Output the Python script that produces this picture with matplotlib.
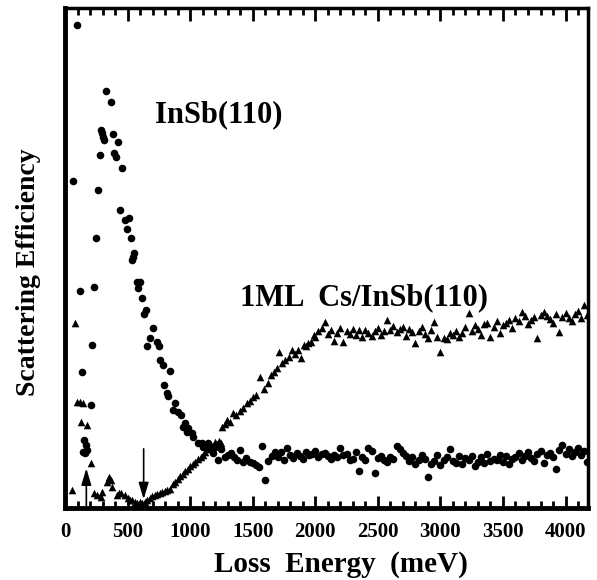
import numpy as np
import matplotlib.pyplot as plt
from matplotlib.ticker import MultipleLocator

# InSb(110) - filled circles, low energy part (meV, arb. units)
insb_x_low = [64, 97, 121, 137, 145, 153, 161, 169, 177, 209, 217, 233, 250, 266,
              282, 290, 298, 305, 313, 330, 370, 380, 394, 411, 427, 443, 459, 475,
              491, 507, 523, 531, 539, 547, 571, 580, 596, 612, 628, 644, 652, 676,
              700, 732, 749, 757, 781, 789, 813, 821, 837, 861, 877, 902, 926, 942,
              958, 974, 982, 1014, 1022, 1063, 1095, 1103, 1143, 1159, 1175, 1183]
insb_y_low = [65.4, 96.6, 43.4, 27.2, 11.2, 13.6, 11.0, 12.6, 11.6, 20.6, 32.6, 44.2, 54.0, 63.6,
              70.6, 75.6, 75.0, 74.2, 73.6, 83.4, 81.2, 74.8, 71.0, 70.2, 73.2, 59.6, 68.0, 57.6,
              55.8, 58.0, 54.0, 49.6, 50.2, 51.0, 45.2, 44.0, 45.2, 42.0, 38.8, 39.6, 32.4, 34.0,
              36.0, 33.2, 32.4, 29.6, 28.6, 24.6, 23.0, 22.4, 27.4, 19.6, 21.0, 19.2, 18.6, 16.2,
              17.0, 15.2, 16.0, 15.0, 14.2, 13.0, 13.0, 12.2, 13.0, 12.2, 11.6, 11.0]

# InSb(110) - flat part, 25 meV steps from 1200 meV
insb_x_flat = np.arange(1200, 4200, 25)
insb_y_flat = [12.2, 9.6, 11.8, 10.2, 10.6, 11.0, 10.2, 9.6, 11.6, 9.2,
               10.0, 9.2, 9.0, 8.6, 8.2, 12.4, 5.6, 9.4, 10.4, 11.2,
               10.2, 11.2, 9.6, 12.0, 10.6, 10.0, 11.0, 10.4, 9.8, 11.2,
               10.6, 10.8, 11.4, 10.2, 10.8, 11.0, 10.4, 9.8, 10.6, 10.2,
               12.0, 10.6, 10.8, 9.6, 9.8, 11.2, 7.4, 10.2, 9.6, 12.0,
               11.4, 7.0, 10.0, 10.4, 9.6, 9.2, 10.2, 9.8, 12.4, 11.8,
               11.0, 10.4, 9.4, 10.2, 8.8, 9.6, 10.6, 9.8, 6.2, 8.8,
               9.4, 10.6, 8.6, 9.6, 10.2, 11.8, 9.4, 9.0, 10.4, 8.8,
               10.0, 9.6, 10.4, 8.4, 9.2, 10.2, 9.0, 10.8, 9.4, 9.8,
               9.6, 10.6, 9.2, 10.4, 8.8, 9.8, 10.2, 11.0, 9.6, 10.4,
               11.2, 10.0, 9.4, 10.8, 11.4, 9.0, 10.6, 11.0, 10.2, 7.8,
               11.6, 12.6, 10.8, 11.8, 10.4, 11.2, 12.0, 10.6, 11.4, 9.2]

# 1ML Cs/InSb(110) - triangles, low energy part
cs_x_low = [56, 80, 97, 121, 145, 129, 177, 209, 233, 258, 290, 298, 338, 354, 370, 378,
            419, 435, 451, 475, 499, 515, 531, 555, 575, 596, 616, 636, 656, 676, 696,
            716, 737, 757, 777, 797, 817, 837, 861, 882, 902, 922, 942, 962, 982, 1002,
            1022, 1042, 1063, 1083, 1103, 1119, 1135, 1151, 1167, 1183, 1200, 1216, 1232,
            1248, 1256, 1280, 1296, 1320, 1344, 1369, 1401, 1425, 1457, 1481, 1505, 1530,
            1562, 1586, 1618, 1642, 1667, 1691, 1707, 1731, 1755, 1787, 1811, 1835, 1860,
            1884, 1908, 1924, 1940, 1964, 1988]
cs_y_low = [3.6, 37.0, 21.2, 21.2, 21.0, 17.2, 16.6, 9.0, 3.0, 2.6, 2.2, 3.2, 5.2, 6.2, 5.6, 4.2,
            2.6, 3.0, 3.0, 2.6, 2.0, 1.6, 1.6, 1.2, 1.0, 1.2, 1.0, 1.2, 1.6, 2.0, 2.4,
            2.6, 2.8, 3.0, 3.2, 3.4, 3.6, 3.8, 4.8, 5.2, 5.8, 6.4, 6.8, 7.4, 7.8, 8.4,
            8.8, 9.2, 9.8, 10.2, 10.6, 11.2, 11.8, 12.2, 12.6, 12.4, 13.2, 12.8, 13.4,
            13.0, 16.2, 16.8, 17.6, 17.2, 19.0, 18.6, 19.4, 20.0, 21.0, 21.4, 22.2, 22.6,
            26.2, 23.8, 25.0, 26.6, 27.2, 28.0, 31.2, 29.0, 29.6, 30.2, 31.6, 30.8, 31.6,
            30.0, 32.6, 32.4, 33.0, 33.2, 34.6]

# 1ML Cs/InSb(110) - plateau, 25 meV steps from 2000 meV
cs_x_flat = np.arange(2000, 4200, 25)
cs_y_flat = [34.2, 35.4, 36.0, 37.2, 34.8, 35.6, 33.4, 35.0, 36.0, 33.2,
             35.4, 34.8, 35.8, 34.6, 35.6, 34.2, 35.6, 35.0, 34.4, 35.4,
             36.0, 34.6, 35.4, 37.6, 35.6, 36.4, 35.2, 35.8, 36.2, 34.4,
             35.8, 35.2, 33.0, 35.4, 36.2, 34.8, 34.0, 35.6, 37.2, 34.2,
             31.2, 34.0, 33.8, 35.0, 34.6, 35.4, 34.2, 35.0, 36.2, 39.0,
             35.4, 36.6, 35.8, 34.6, 36.8, 37.0, 34.2, 36.2, 37.4, 35.0,
             36.6, 37.0, 37.6, 36.0, 38.0, 37.4, 39.2, 38.4, 36.8, 37.6,
             38.2, 34.0, 38.6, 39.2, 38.4, 37.8, 37.0, 38.8, 35.2, 38.2,
             39.0, 38.0, 37.4, 38.8, 39.4, 38.0, 40.6, 38.6]

xticks = [0, 500, 1000, 1500, 2000, 2500, 3000, 3500, 4000]

serif = 'Liberation Serif'

fig = plt.figure(figsize=(5.97, 5.80), dpi=100)
ax = fig.add_axes([0.109, 0.124, 0.876, 0.862])

ax.scatter(insb_x_low, insb_y_low, s=30, marker='o', color='black', lw=0)
ax.scatter(insb_x_flat, insb_y_flat, s=30, marker='o', color='black', lw=0)
ax.scatter(cs_x_low, cs_y_low, s=30, marker='^', color='black', lw=0)
ax.scatter(cs_x_flat, cs_y_flat, s=30, marker='^', color='black', lw=0)

# arrows marking the onsets
ax.annotate('', xy=(170, 8.5), xytext=(170, -0.5),
            arrowprops=dict(arrowstyle='-|>,head_length=1.0,head_width=0.3', color='black', lw=1.2))
ax.annotate('', xy=(628, 1.2), xytext=(628, 12.4),
            arrowprops=dict(arrowstyle='-|>,head_length=1.0,head_width=0.3', color='black', lw=1.2))

ax.text(1230, 78.6, 'InSb(110)', fontsize=22, fontweight='bold', family=serif, ha='center', va='center')
ax.text(2390, 42, '1ML  Cs/InSb(110)', fontsize=22, fontweight='bold', family=serif, ha='center', va='center')

ax.set_xlim(0, 4180)
ax.set_ylim(0, 100)
ax.set_xticks(xticks)
ax.set_xticklabels([str(t) for t in xticks], fontsize=15, fontweight='bold', family=serif)
ax.xaxis.set_minor_locator(MultipleLocator(100))
ax.set_yticks([])
ax.tick_params(axis='x', which='major', direction='in', length=9, width=2, top=True, pad=10)
ax.tick_params(axis='x', which='minor', direction='in', length=5, width=2, top=True)

for side in ['left', 'bottom']:
    ax.spines[side].set_linewidth(3.5)
for side in ['right', 'top']:
    ax.spines[side].set_linewidth(2.5)

ax.set_xlabel('Loss  Energy  (meV)', fontsize=21, fontweight='bold', family=serif)
ax.xaxis.set_label_coords(0.528, -0.085)
ax.set_ylabel('Scattering Efficiency', fontsize=20, fontweight='bold', family=serif)
ax.yaxis.set_label_coords(-0.046, 0.472)

fig.savefig('out.png', dpi=100)
